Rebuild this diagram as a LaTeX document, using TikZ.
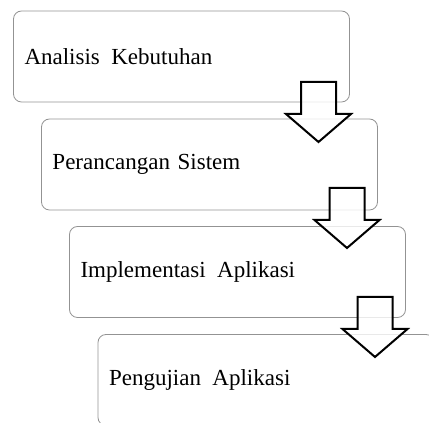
\documentclass[tikz,border=0pt]{standalone}
\usepackage{fontspec}
\setmainfont{Liberation Serif}
\tikzset{
  stagebox/.style={draw=gray!85, line width=0.6pt, rounded corners=6pt,
    minimum width=252pt, minimum height=68.25pt, text width=235.5pt,
    inner xsep=8.25pt, align=left, font=\fontsize{17.25}{20}\selectfont},
  flowarrow/.pic={
    \draw[line width=1.5pt, fill=white, fill opacity=0.8, line join=miter]
      (-17.5,0) -- (17.5,0) -- (17.5,32) -- (32.5,32) -- (0,60)
      -- (-32.5,32) -- (-17.5,32) -- cycle;
  }
}
\begin{document}
\begin{tikzpicture}[x=0.75pt, y=-0.75pt]
            \useasboundingbox (0,0) rectangle (429,423);
            \clip (0,0) rectangle (429,423);
            %Stages
            \node [stagebox] (analisis)at(181.5,56.5){Analisis\ \,Kebutuhan};
            \node [stagebox] (rancang)at(209.5,164.5){Perancangan Sistem};
            \node [stagebox] (implementasi)at(237.5,272){Implementasi\ \,Aplikasi};
            \node [stagebox] (uji)at(266,380){Pengujian\ \,Aplikasi};

            %Arrows
            \pic (a1) at (318.5,82) {flowarrow};
            \pic (a2) at (347,188) {flowarrow};
            \pic (a3) at (375,297) {flowarrow};

        \end{tikzpicture}
\end{document}
